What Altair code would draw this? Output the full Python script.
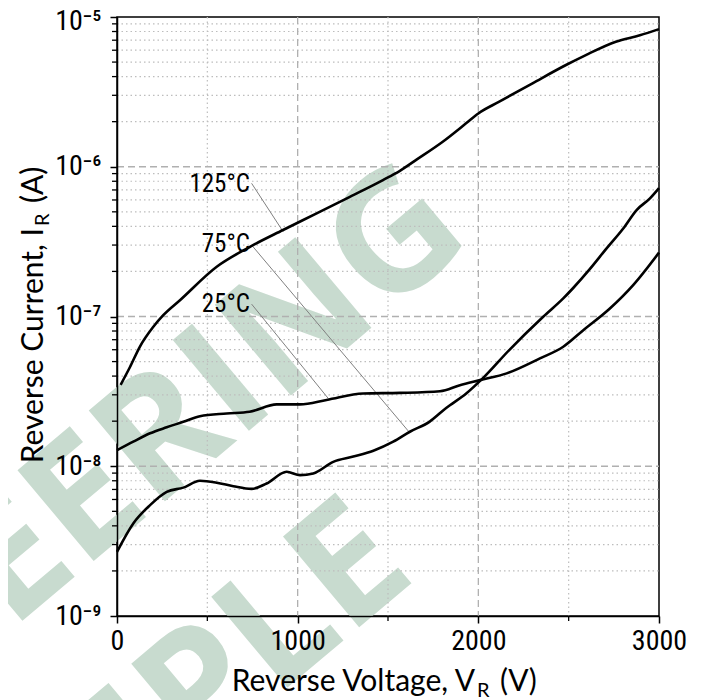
import altair as alt
import pandas as pd

# ---------------- data ----------------
v_125 = [20, 72, 127, 200, 256, 350, 552, 736, 919, 1105, 1289, 1472, 1566, 1660,
         1803, 1932, 2000, 2116, 2300, 2485, 2595, 2761, 2894, 3000]
i_125 = [3.5e-8, 4.6e-8, 6.3e-8, 8.5e-8, 1.02e-7, 1.29e-7, 2.15e-7, 2.92e-7, 3.78e-7,
         4.88e-7, 6.3e-7, 8.15e-7, 9.4e-7, 1.12e-6, 1.47e-6, 1.95e-6, 2.27e-6, 2.72e-6,
         3.61e-6, 4.78e-6, 5.57e-6, 6.84e-6, 7.55e-6, 8.3e-6]

v_25 = [0, 90, 183, 275, 367, 459, 607, 734, 884, 1013, 1160, 1363, 1566, 1788, 1898,
        2009, 2157, 2341, 2470, 2581, 2728, 2857, 3000]
i_25 = [1.28e-8, 1.46e-8, 1.66e-8, 1.82e-8, 1.98e-8, 2.16e-8, 2.25e-8, 2.31e-8, 2.59e-8,
        2.59e-8, 2.77e-8, 3.06e-8, 3.09e-8, 3.17e-8, 3.48e-8, 3.76e-8, 4.17e-8, 5.25e-8,
        6.28e-8, 8.1e-8, 1.13e-7, 1.62e-7, 2.67e-7]

v_75 = [0, 90, 183, 275, 367, 459, 552, 644, 745, 828, 939, 1013, 1086, 1197, 1308, 1419,
        1529, 1621, 1729, 1822, 1933, 2024, 2171, 2359, 2470, 2525, 2618, 2710, 2802, 2876,
        2950, 3000]
i_75 = [2.68e-9, 4.15e-9, 5.5e-9, 6.74e-9, 7.2e-9, 8.0e-9, 7.77e-9, 7.36e-9, 7.06e-9,
        7.67e-9, 9.18e-9, 8.73e-9, 8.95e-9, 1.07e-8, 1.16e-8, 1.27e-8, 1.46e-8, 1.70e-8,
        1.98e-8, 2.45e-8, 3.06e-8, 3.86e-8, 5.97e-8, 9.96e-8, 1.32e-7, 1.55e-7, 2.08e-7,
        2.85e-7, 3.87e-7, 5.14e-7, 6.15e-7, 7.2e-7]

label_text = ["125°C", "75°C", "25°C"]
label_v = [736, 736, 736]
label_i = [6.78e-7, 2.69e-7, 1.07e-7]
leader_v0 = [745, 745, 745]
leader_i0 = [7.75e-7, 3.0e-7, 1.21e-7]
leader_v1 = [920, 1621, 1169]
leader_i1 = [3.68e-7, 1.67e-8, 2.84e-8]

x_major = [0, 1000, 2000, 3000]
x_minor = [500, 1500, 2500]
x_grid_major = [1000, 2000]
y_major = [1e-9, 1e-8, 1e-7, 1e-6, 1e-5]
y_major_labels = ["10⁻⁹", "10⁻⁸", "10⁻⁷", "10⁻⁶", "10⁻⁵"]
y_grid_major = [1e-8, 1e-7, 1e-6]
y_minor = [k * 10.0 ** e for e in range(-9, -5) for k in range(2, 10)]

watermark = ["ENGINEERING", "SAMPLE"]
x_title = ["Reverse Voltage, V", "R", "(V)"]
y_title = ["Reverse Current, I", "R", "(A)"]

# ---------------- chart ----------------
W, H = 542, 599
NARROW = "Roboto Condensed, Liberation Sans Narrow, DejaVu Sans Condensed, sans-serif"
TITLE_FONT = "Lato, Open Sans, sans-serif"
WM_COLOR = "#c8dbcf"

xs = alt.Scale(domain=[0, 3000], nice=False, zero=False)
ys = alt.Scale(type="log", domain=[1e-9, 1e-5], nice=False)

expr = ""
for val, lab in zip(y_major[:-1], y_major_labels[:-1]):
    expr += f"datum.value < {val * 3} ? '{lab}' : "
expr += f"'{y_major_labels[-1]}'"

x_axis = alt.Axis(values=x_major, title=None, grid=False, labelFont=NARROW,
                  labelFontSize=28, labelColor="black", tickColor="black", tickSize=7,
                  tickWidth=1.5, domainColor="black", domainWidth=1.5, labelPadding=4,
                  labelFlush=False, format="d", zindex=1)
y_axis = alt.Axis(values=y_major, title=None, grid=False, labelFont=NARROW,
                  labelFontSize=28, labelColor="black", tickColor="black", tickSize=7,
                  tickWidth=1.5, domainColor="black", domainWidth=1.5, labelPadding=9,
                  labelFlush=False, labelExpr=expr, zindex=1,
                  labelOffset={"condition": {"test": "datum.value > 5e-6", "value": 4},
                               "value": 0})


def X(field):
    return alt.X(f"{field}:Q", scale=xs, axis=x_axis)


def Y(field):
    return alt.Y(f"{field}:Q", scale=ys, axis=y_axis)


def wm(text, x, y):
    return alt.Chart(pd.DataFrame({"t": [text]})).mark_text(
        font="Open Sans", fontWeight="bold", fontSize=166, color=WM_COLOR,
        angle=320, align="right", baseline="alphabetic"
    ).encode(text="t:N", x=alt.value(x), y=alt.value(y))


wm_layers = [wm(watermark[0], 358, 224), wm(watermark[1], 302, 560)]

ymin_df = pd.DataFrame({"y": y_minor})
ymaj_df = pd.DataFrame({"y": y_grid_major})
xmin_df = pd.DataFrame({"x": x_minor})
xmaj_df = pd.DataFrame({"x": x_grid_major})

grid_y_minor = alt.Chart(ymin_df).mark_rule(color="#bdbdbd", strokeWidth=1.2,
                                            strokeDash=[1.5, 3]).encode(
    y=Y("y"), x=alt.value(0), x2=alt.value(W))
grid_x_minor = alt.Chart(xmin_df).mark_rule(color="#bdbdbd", strokeWidth=1.2,
                                            strokeDash=[1.5, 3]).encode(
    x=X("x"), y=alt.value(0), y2=alt.value(H))
grid_y_major = alt.Chart(ymaj_df).mark_rule(color="#b0b0b0", strokeWidth=1.3,
                                            strokeDash=[7, 4]).encode(
    y=Y("y"), x=alt.value(0), x2=alt.value(W))
grid_x_major = alt.Chart(xmaj_df).mark_rule(color="#b0b0b0", strokeWidth=1.3,
                                            strokeDash=[7, 4]).encode(
    x=X("x"), y=alt.value(0), y2=alt.value(H))

tick_y_minor = alt.Chart(ymin_df).mark_rule(color="black", strokeWidth=1.3).encode(
    y=Y("y"), x=alt.value(-5), x2=alt.value(0))
tick_x_minor = alt.Chart(xmin_df).mark_rule(color="black", strokeWidth=1.3).encode(
    x=X("x"), y=alt.value(H), y2=alt.value(H + 5))

curves_df = pd.concat([
    pd.DataFrame({"v": v_125, "i": i_125, "s": "125"}),
    pd.DataFrame({"v": v_75, "i": i_75, "s": "75"}),
    pd.DataFrame({"v": v_25, "i": i_25, "s": "25"}),
])
curves = alt.Chart(curves_df).mark_line(color="black", strokeWidth=2.6,
                                        interpolate="monotone").encode(
    x=X("v"), y=Y("i"), detail="s:N")

lead_df = pd.DataFrame({"v0": leader_v0, "i0": leader_i0, "v1": leader_v1, "i1": leader_i1})
leaders = alt.Chart(lead_df).mark_rule(color="#808080", strokeWidth=1).encode(
    x=X("v0"), y=Y("i0"), x2="v1:Q", y2="i1:Q")

lab_df = pd.DataFrame({"t": label_text, "v": label_v, "i": label_i})
labels = alt.Chart(lab_df).mark_text(font=NARROW, fontSize=25, color="black",
                                     align="right", baseline="alphabetic").encode(
    x=X("v"), y=Y("i"), text="t:N")


def piece(text, x, y, size, dx=0, dy=0, align="left", angle=0):
    kw = dict(font=TITLE_FONT, fontSize=size, color="black", align=align,
              baseline="alphabetic", dx=dx, dy=dy)
    if angle:
        kw["angle"] = angle
    return alt.Chart(pd.DataFrame({"t": [text]})).mark_text(**kw).encode(
        text="t:N", x=alt.value(x), y=alt.value(y))


xt_x, xt_y = 358, 674
yt_x, yt_y = -74, 211
title_layers = [
    piece(x_title[0], xt_x, xt_y, 30, align="right"),
    piece(x_title[1], xt_x, xt_y, 20, dx=2, dy=6),
    piece(x_title[2], xt_x, xt_y, 30, dx=25),
    piece(y_title[0], yt_x, yt_y, 30, align="right", angle=270),
    piece(y_title[1], yt_x, yt_y, 20, dx=2, dy=6, angle=270),
    piece(y_title[2], yt_x, yt_y, 30, dx=25, angle=270),
]

chart = alt.layer(
    *wm_layers, grid_y_minor, grid_x_minor, grid_y_major, grid_x_major,
    tick_y_minor, tick_x_minor, leaders, curves, labels, *title_layers
).properties(
    width=W, height=H, autosize=alt.AutoSizeParams(type="none"),
    padding={"left": 109, "top": 9, "right": 41, "bottom": 84}
).configure_view(stroke="black", strokeWidth=1.5)

chart.save("out.html", embed_options={"renderer": "svg", "actions": False})
